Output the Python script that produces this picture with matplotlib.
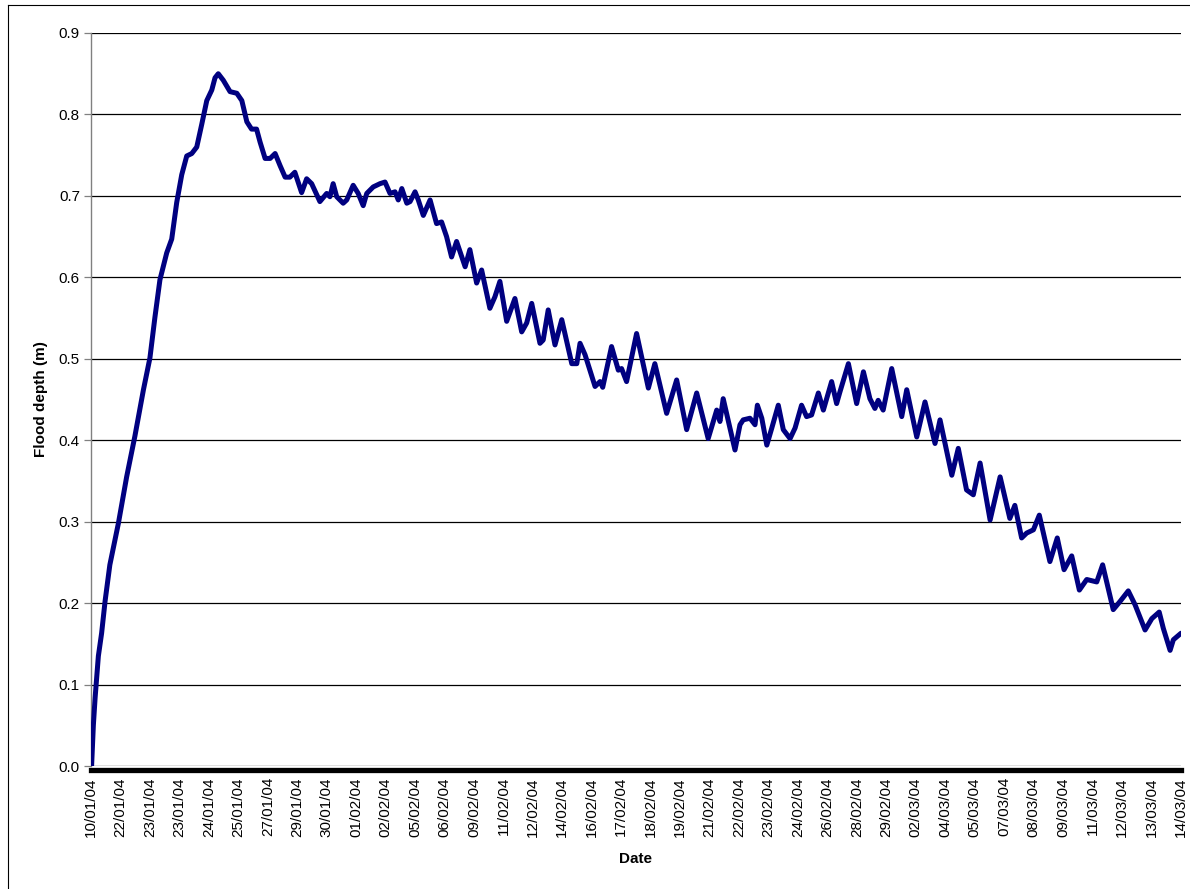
import matplotlib
matplotlib.use('Agg')
import numpy as np
import matplotlib.pyplot as plt
from matplotlib.lines import Line2D

# category labels along the bottom (one per tick, same as the logger export)
DATE_LABELS = ['10/01/04', '22/01/04', '23/01/04', '23/01/04', '24/01/04', '25/01/04',
               '27/01/04', '29/01/04', '30/01/04', '01/02/04', '02/02/04', '05/02/04',
               '06/02/04', '09/02/04', '11/02/04', '12/02/04', '14/02/04', '16/02/04',
               '17/02/04', '18/02/04', '19/02/04', '21/02/04', '22/02/04', '23/02/04',
               '24/02/04', '26/02/04', '28/02/04', '29/02/04', '02/03/04', '04/03/04',
               '05/03/04', '07/03/04', '08/03/04', '09/03/04', '11/03/04', '12/03/04',
               '13/03/04', '14/03/04']

# position along the category axis (tick units) and flood depth in metres
POS = [0.02, 0.08, 0.14, 0.25, 0.36, 0.48, 0.64, 0.93, 1.21, 1.49, 1.78, 2.00, 2.17, 2.34,
       2.57, 2.74, 2.91, 3.08, 3.25, 3.42, 3.59, 3.76, 3.93, 4.10, 4.21, 4.32, 4.49, 4.72,
       4.95, 5.12, 5.29, 5.45, 5.62, 5.74, 5.91, 6.08, 6.25, 6.42, 6.59, 6.75, 6.92, 7.15,
       7.32, 7.49, 7.77, 8.00, 8.11, 8.22, 8.34, 8.56, 8.68, 8.90, 9.07, 9.24, 9.36, 9.58,
       9.81, 9.98, 10.15, 10.32, 10.43, 10.55, 10.72, 10.83, 11.00, 11.11, 11.28, 11.51,
       11.73, 11.90, 12.07, 12.24, 12.41, 12.70, 12.86, 13.09, 13.26, 13.54, 13.71, 13.88,
       14.11, 14.39, 14.62, 14.79, 14.96, 15.24, 15.35, 15.52, 15.75, 15.98, 16.32, 16.49,
       16.60, 16.77, 17.11, 17.28, 17.37, 17.67, 17.90, 18.01, 18.18, 18.52, 18.92, 19.14,
       19.54, 19.88, 20.22, 20.56, 20.95, 21.24, 21.35, 21.46, 21.86, 22.03, 22.14, 22.37,
       22.54, 22.62, 22.77, 22.94, 23.11, 23.33, 23.50, 23.73, 23.90, 24.12, 24.29, 24.46,
       24.69, 24.86, 25.14, 25.31, 25.42, 25.71, 25.99, 26.22, 26.44, 26.61, 26.72, 26.89,
       27.18, 27.52, 27.69, 28.03, 28.31, 28.65, 28.82, 29.22, 29.44, 29.72, 29.95, 30.18,
       30.52, 30.86, 31.19, 31.36, 31.59, 31.76, 31.99, 32.19, 32.55, 32.80, 33.03, 33.29,
       33.55, 33.80, 34.14, 34.34, 34.70, 34.93, 35.21, 35.44, 35.78, 36.01, 36.26, 36.40,
       36.63, 36.74, 37.00]
DEPTH = [0.000, 0.050, 0.084, 0.135, 0.163, 0.203, 0.247, 0.298, 0.355, 0.405, 0.462, 0.501,
         0.551, 0.597, 0.630, 0.647, 0.692, 0.726, 0.749, 0.752, 0.760, 0.788, 0.817, 0.830,
         0.845, 0.850, 0.842, 0.828, 0.826, 0.817, 0.791, 0.782, 0.782, 0.766, 0.746, 0.746,
         0.752, 0.737, 0.723, 0.723, 0.729, 0.704, 0.721, 0.715, 0.693, 0.703, 0.699, 0.715,
         0.699, 0.691, 0.695, 0.713, 0.703, 0.688, 0.703, 0.711, 0.715, 0.717, 0.703, 0.705,
         0.695, 0.709, 0.691, 0.693, 0.705, 0.695, 0.676, 0.695, 0.666, 0.668, 0.650, 0.625,
         0.644, 0.613, 0.634, 0.593, 0.609, 0.562, 0.576, 0.595, 0.546, 0.574, 0.533, 0.544,
         0.568, 0.519, 0.523, 0.560, 0.517, 0.548, 0.494, 0.494, 0.519, 0.505, 0.466, 0.472,
         0.465, 0.515, 0.486, 0.488, 0.472, 0.531, 0.464, 0.494, 0.433, 0.474, 0.413, 0.458,
         0.402, 0.437, 0.423, 0.451, 0.388, 0.419, 0.425, 0.427, 0.419, 0.443, 0.427, 0.394,
         0.415, 0.443, 0.413, 0.402, 0.415, 0.443, 0.429, 0.431, 0.458, 0.437, 0.472, 0.445,
         0.459, 0.494, 0.445, 0.484, 0.451, 0.439, 0.449, 0.437, 0.488, 0.429, 0.462, 0.404,
         0.447, 0.396, 0.425, 0.357, 0.390, 0.339, 0.333, 0.372, 0.302, 0.355, 0.304, 0.320,
         0.280, 0.286, 0.290, 0.308, 0.251, 0.280, 0.241, 0.258, 0.216, 0.229, 0.226, 0.247,
         0.192, 0.202, 0.215, 0.198, 0.167, 0.181, 0.189, 0.169, 0.142, 0.155, 0.163]
Y_TICKS = [0.0, 0.1, 0.2, 0.3, 0.4, 0.5, 0.6, 0.7, 0.8, 0.9]

plt.rcParams['font.family'] = ['Liberation Sans', 'DejaVu Sans']
FS = 11

fig = plt.figure(figsize=(11.9, 8.89), dpi=100)
ax = fig.add_axes([91 / 1190, 1 - 766 / 889, 1090 / 1190, 733 / 889])

# spines first - set_position resets the tick setup
for side in ['top', 'right']:
    ax.spines[side].set_visible(False)
ax.spines['left'].set_color('#808080')
ax.spines['left'].set_linewidth(1.0)
# thick black base line sitting just under zero
ax.spines['bottom'].set_position(('outward', 3))
ax.spines['bottom'].set_color('black')
ax.spines['bottom'].set_linewidth(3.8)

# horizontal gridlines, excel style
for yv in Y_TICKS:
    ax.axhline(yv, color='black', lw=0.9, zorder=1)

ax.plot(POS, DEPTH, color='#000080', lw=3.6, solid_joinstyle='round',
        solid_capstyle='round', zorder=3)

ax.set_xlim(0, len(DATE_LABELS) - 1)
ax.set_ylim(0, 0.9)
ax.set_yticks(Y_TICKS)
ax.set_yticklabels([f'{v:.1f}' for v in Y_TICKS], fontsize=FS)
ax.set_xticks(np.arange(len(DATE_LABELS)))
ax.set_xticklabels(DATE_LABELS, fontsize=FS)
ax.tick_params(axis='x', length=0, pad=5, labelrotation=90)
ax.tick_params(axis='y', length=5, width=0.9, color='#808080', pad=3)

ax.set_ylabel('Flood depth (m)', fontsize=FS, fontweight='bold', labelpad=8)
ax.set_xlabel('Date', fontsize=FS, fontweight='bold', labelpad=11)

# chart area frame
fig.add_artist(Line2D([7.5 / 1190, 7.5 / 1190], [0, 1 - 5 / 889], color='black', lw=0.8))
fig.add_artist(Line2D([7.5 / 1190, 1], [1 - 5 / 889, 1 - 5 / 889], color='black', lw=0.8))

fig.savefig('out.png', dpi=100)
